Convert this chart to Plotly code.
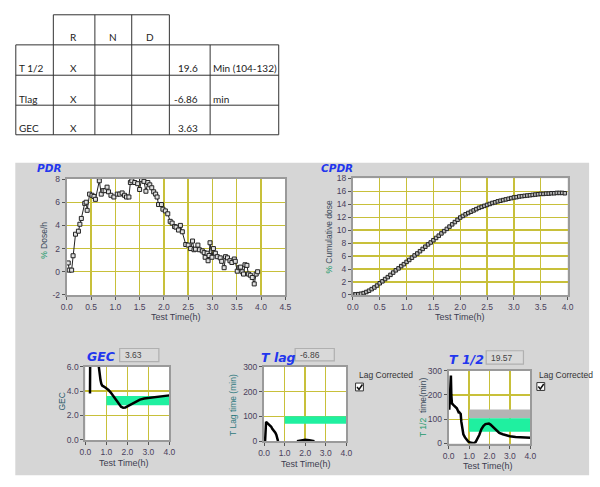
import plotly.graph_objects as go

W, H = 600, 487
def fx(x): return x / W
def fy(y): return 1 - y / H

# ---------------- data ----------------
pdr_t = [0.03,0.05,0.10,0.13,0.18,0.24,0.27,0.30,0.37,0.40,0.42,0.47,0.52,0.56,0.59,0.67,0.71,0.75,0.79,0.83,
         0.86,0.91,0.97,1.04,1.09,1.14,1.19,1.23,1.28,1.31,1.34,1.40,1.46,1.50,1.54,1.59,1.63,1.67,1.71,1.75,
         1.79,1.83,1.86,1.89,1.95,1.98,2.03,2.08,2.13,2.17,2.22,2.25,2.30,2.34,2.38,2.45,2.50,2.55,2.59,2.62,
         2.65,2.70,2.73,2.79,2.83,2.85,2.89,2.91,2.93,2.95,2.99,3.02,3.06,3.10,3.16,3.19,3.24,3.27,3.31,3.36,
         3.40,3.45,3.47,3.51,3.55,3.58,3.61,3.64,3.67,3.71,3.74,3.78,3.82,3.86,3.90,3.93]
pdr_v = [0.76,0.14,0.14,1.38,3.24,3.5,4.1,4.6,5.9,6.0,5.3,6.7,6.6,6.5,6.25,7.85,6.7,7.0,7.0,7.3,
         6.9,6.6,6.45,6.7,6.7,6.8,6.6,6.45,6.45,7.7,7.85,7.7,7.6,7.1,7.95,7.8,6.95,7.7,7.5,7.25,
         6.9,6.7,6.45,5.8,5.8,5.4,5.25,5.0,4.35,4.2,3.9,3.85,3.6,4.0,3.45,2.35,2.3,2.0,2.65,1.9,
         1.95,2.3,1.9,1.8,1.65,1.25,1.6,0.95,1.4,2.5,1.25,2.0,1.6,1.3,1.2,0.9,0.35,1.3,1.2,0.95,
         0.8,1.1,0.9,0.05,0.35,0.4,0.0,-0.2,0.6,0.55,-0.2,-0.3,-0.5,-1.05,-0.2,0.0]

cpdr_t = [0.00,0.05,0.10,0.15,0.20,0.25,0.30,0.35,0.40,0.45,0.50,0.55,0.60,0.65,0.70,0.75,0.80,0.85,0.90,0.95,
          1.00,1.05,1.10,1.15,1.20,1.25,1.30,1.35,1.40,1.45,1.50,1.55,1.60,1.65,1.70,1.75,1.80,1.85,1.90,1.95,
          2.00,2.05,2.10,2.15,2.20,2.25,2.30,2.35,2.40,2.45,2.50,2.55,2.60,2.65,2.70,2.75,2.80,2.85,2.90,2.95,
          3.00,3.05,3.10,3.15,3.20,3.25,3.30,3.35,3.40,3.45,3.50,3.55,3.60,3.65,3.70,3.75,3.80,3.85,3.90,3.95]
cpdr_v = [0.05,0.08,0.12,0.18,0.28,0.45,0.65,0.9,1.15,1.45,1.8,2.1,2.45,2.75,3.1,3.45,3.8,4.1,4.45,4.75,
          5.1,5.4,5.75,6.1,6.4,6.75,7.1,7.45,7.8,8.1,8.45,8.8,9.15,9.5,9.85,10.2,10.55,10.9,11.25,11.6,
          11.95,12.2,12.45,12.65,12.85,13.05,13.25,13.45,13.6,13.75,13.9,14.05,14.2,14.3,14.45,14.55,14.65,14.75,14.85,14.95,
          15.05,15.1,15.2,15.25,15.3,15.35,15.4,15.45,15.5,15.55,15.6,15.6,15.65,15.65,15.7,15.7,15.75,15.75,15.75,15.7]

gec_t = [0.22,0.23,0.40,0.60,0.64,0.68,0.72,0.76,0.80,0.90,1.00,1.10,1.20,1.30,1.40,1.50,1.60,1.70,1.80,1.90,
         2.00,2.20,2.40,2.60,2.80,3.00,3.20,3.40,3.60,3.80,4.00]
gec_v = [3.8,7.0,8.0,7.0,6.0,5.3,4.9,4.6,4.45,4.35,4.25,4.1,3.9,3.65,3.4,3.15,2.9,2.72,2.63,2.65,
         2.75,2.95,3.15,3.3,3.4,3.45,3.48,3.5,3.55,3.6,3.65]
gec_band = [2.85, 3.6]

tlag_t = [0.05,0.07,0.10,0.15,0.20,0.25,0.30,0.35,0.40,0.45,0.50,0.55,0.60,0.65,0.68,None,1.60,1.80,2.00,2.20,2.45]
tlag_v = [0,60,78,74,70,67,60,58,50,45,40,34,25,10,0,None,0,4,6,4,0]
tlag_band = [70, 100]

thalf_t = [0.03,0.06,0.08,0.11,0.13,0.16,0.24,0.32,0.40,0.48,0.50,0.53,0.56,0.59,0.62,0.66,0.72,0.80,0.88,0.96,
           1.04,1.12,1.23,1.32,1.39,1.50,1.60,1.70,1.80,1.90,1.97,2.05,2.16,2.30,2.48,2.65,2.80,3.00,3.28,3.60,4.00]
thalf_v = [139,180,230,280,200,165,158,152,145,130,125,128,122,122,90,60,38,25,15,8,
           4,2,1,6,17,35,58,72,80,83,82,78,69,55,44,38,34,30,27,25,24]
thalf_gray_band = [104, 140]
thalf_green_band = [48, 104]
band_t = [1.0, 4.0]

tab_header = ["R", "N", "D"]
tab_rows = ["T 1/2", "Tlag", "GEC"]
tab_marks = ["X", "X", "X"]
tab_values = ["19.6", "-6.86", "3.63"]
tab_units = ["Min (104-132)", "min", ""]

ind_gec, ind_tlag, ind_thalf = "3.63", "-6.86", "19.57"

pdr_yticks = [-2, 0, 2, 4, 6, 8]
pdr_yticktext = ["-2", "0", "2", "4", "6", "8"]

# ---------------- styles ----------------
GRID = "#c8c03a"
FRAME = "#9a9a9a"
TICKFONT = dict(family="Liberation Sans", size=8.5, color="#4a3f5c")
BAND = "#1ff0a0"
TITLEBLUE = "#2236ee"
GREEN = "#1d9a6c"
DARK = "#3c4a5a"

def axis(domain, rng, dtick=None, fmt=None, tickvals=None, ticktext=None, anchor=None):
    d = dict(domain=domain, range=rng, showgrid=True, gridcolor=GRID, gridwidth=1.4,
             zeroline=False, showline=True, mirror=True, linecolor=FRAME, linewidth=2,
             ticks="outside", ticklen=3, tickcolor="#555", tickwidth=1,
             tickfont=TICKFONT, fixedrange=True, anchor=anchor)
    if dtick is not None:
        d["dtick"] = dtick
        d["tick0"] = rng[0] if rng[0] >= 0 else 0
    if fmt:
        d["tickformat"] = fmt
    if tickvals is not None:
        d["tickmode"] = "array"; d["tickvals"] = tickvals; d["ticktext"] = ticktext
    return d

fig = go.Figure()

def band(xa, ya, lo_hi, color):
    fig.add_trace(go.Scatter(x=[band_t[0], band_t[1], band_t[1], band_t[0], band_t[0]],
                             y=[lo_hi[0], lo_hi[0], lo_hi[1], lo_hi[1], lo_hi[0]],
                             mode="lines", fill="toself", fillcolor=color, line=dict(width=0),
                             xaxis=xa, yaxis=ya, hoverinfo="skip", showlegend=False))

fig.add_trace(go.Scatter(x=pdr_t, y=pdr_v, mode="lines+markers", xaxis="x", yaxis="y",
                         line=dict(color="#222", width=1),
                         marker=dict(symbol="square", size=4, color="#e0e0e0", line=dict(color="#222", width=1)),
                         showlegend=False))
fig.add_trace(go.Scatter(x=cpdr_t, y=cpdr_v, mode="lines+markers", xaxis="x2", yaxis="y2",
                         line=dict(color="#222", width=1),
                         marker=dict(symbol="square", size=3.5, color="#bbbbbb", line=dict(color="#222", width=1)),
                         showlegend=False))
band("x3", "y3", gec_band, BAND)
fig.add_trace(go.Scatter(x=gec_t, y=gec_v, mode="lines", xaxis="x3", yaxis="y3",
                         line=dict(color="#000", width=2.5), showlegend=False))
band("x4", "y4", tlag_band, BAND)
fig.add_trace(go.Scatter(x=tlag_t, y=tlag_v, mode="lines", xaxis="x4", yaxis="y4",
                         line=dict(color="#000", width=2.5), showlegend=False, connectgaps=False))
band("x5", "y5", thalf_gray_band, "#b4b4b4")
band("x5", "y5", thalf_green_band, BAND)
fig.add_trace(go.Scatter(x=thalf_t, y=thalf_v, mode="lines", xaxis="x5", yaxis="y5",
                         line=dict(color="#000", width=2.5), showlegend=False))

# plot area pixel boxes (left, top, right, bottom)
boxes = {
    "1": (62, 177.7, 285, 296),
    "2": (354, 177, 573, 296),
    "3": (81, 369.3, 166.7, 444),
    "4": (263.3, 369.3, 347.3, 445.3),
    "5": (451.7, 373.3, 535, 447.7),
}
def dom(b):
    l, t, r, bt = b
    return [fx(l), fx(r)], [fy(bt), fy(t)]

xd, yd = dom(boxes["1"])
fig.update_layout(xaxis=axis(xd, [0, 4.5], 0.5, ".1f", anchor="y"),
                  yaxis=axis(yd, [-2, 8], tickvals=pdr_yticks, ticktext=pdr_yticktext, anchor="x"))
xd, yd = dom(boxes["2"])
fig.update_layout(xaxis2=axis(xd, [0, 4.0], 0.5, ".1f", anchor="y2"),
                  yaxis2=axis(yd, [0, 18], 2, anchor="x2"))
xd, yd = dom(boxes["3"])
fig.update_layout(xaxis3=axis(xd, [0, 4.0], 1, ".1f", anchor="y3"),
                  yaxis3=axis(yd, [0, 6], 2, ".1f", anchor="x3"))
xd, yd = dom(boxes["4"])
fig.update_layout(xaxis4=axis(xd, [0, 4.0], 1, ".1f", anchor="y4"),
                  yaxis4=axis(yd, [0, 300], 100, anchor="x4"))
xd, yd = dom(boxes["5"])
fig.update_layout(xaxis5=axis(xd, [0, 4.0], 1, ".1f", anchor="y5"),
                  yaxis5=axis(yd, [0, 300], 100, anchor="x5"))

shapes = []
def rect(l, t, r, b, fill, line=None, lw=0, layer="below"):
    shapes.append(dict(type="rect", xref="paper", yref="paper", x0=fx(l), x1=fx(r), y0=fy(b), y1=fy(t),
                       fillcolor=fill, line=dict(color=line or fill, width=lw), layer=layer))
def hline(y, x0, x1, color="#333", w=1):
    shapes.append(dict(type="line", xref="paper", yref="paper", x0=fx(x0), x1=fx(x1), y0=fy(y), y1=fy(y),
                       line=dict(color=color, width=w)))
def vline(x, y0, y1, color="#333", w=1):
    shapes.append(dict(type="line", xref="paper", yref="paper", x0=fx(x), x1=fx(x), y0=fy(y0), y1=fy(y1),
                       line=dict(color=color, width=w)))

# gray panel + white plot areas
rect(9.5, 161, 595, 480, "#d6d6d6")
for b in boxes.values():
    rect(b[0], b[1], b[2], b[3], "#ffffff")

# table lines
hline(10, 48.3, 166.7)
for y in [40.7, 71.7, 102.3, 132.5]:
    hline(y, 10, 278.3)
for x in [48.3, 90.7, 128.3, 166.7]:
    vline(x, 10, 132.5)
for x in [10, 208.3, 278.3]:
    vline(x, 40.7, 132.5)

# indicator boxes
for (l, t, r, b) in [(116, 350.7, 156, 364), (295, 350.7, 335, 363.3), (490, 353, 528, 366.7)]:
    rect(l, t, r, b, "#d9d9d9", "#b0b0b0", 1.2, layer="above")

# checkboxes
for (l, t) in [(356.7, 386), (541.7, 385.5)]:
    rect(l, t, l + 8, t + 8, "#ffffff", "#333333", 1, layer="above")
    shapes.append(dict(type="path", xref="paper", yref="paper",
                       path="M {:.5f},{:.5f} L {:.5f},{:.5f} L {:.5f},{:.5f}".format(
                           fx(l + 1.5), fy(t + 4), fx(l + 3.5), fy(t + 6.5), fx(l + 7), fy(t + 1.5)),
                       line=dict(color="#111", width=1.5), layer="above"))

ann = []
def text(x, y, s, size=9, color="#333", family="Liberation Sans", xanchor="center", angle=0):
    ann.append(dict(x=fx(x), y=fy(y), xref="paper", yref="paper", text=s, showarrow=False,
                    xanchor=xanchor, yanchor="middle", textangle=angle,
                    font=dict(size=size, color=color, family=family)))

# table text
TF = "Lato"
TS = 10
for c, hx in zip(tab_header, [69, 109, 147]):
    text(hx, 33, c, TS, "#222", TF)
for i, yy in enumerate([64, 96, 126]):
    text(11.5, yy, tab_rows[i], TS, "#222", TF, "left")
    text(69, yy, tab_marks[i], TS, "#222", TF)
    text(198, yy, tab_values[i], TS, "#222", TF, "right")
    text(209.5, yy, tab_units[i], TS, "#222", TF, "left")

# chart titles
TT = "DejaVu Sans"
text(44, 166, "<b><i>PDR</i></b>", 10.5, TITLEBLUE, TT)
text(337.5, 166, "<b><i>CPDR</i></b>", 10.5, TITLEBLUE, TT)
text(97.5, 359, "<b><i>GEC</i></b>", 12.5, TITLEBLUE, TT)
text(278, 360, "<b><i>T lag</i></b>", 12.5, TITLEBLUE, TT)
text(470, 362, "<b><i>T 1/2</i></b>", 12.5, TITLEBLUE, TT)

# indicator values
text(119, 357.5, ind_gec, 8.5, "#444", xanchor="left")
text(298, 357.3, ind_tlag, 8.5, "#444", xanchor="left")
text(493, 360, ind_thalf, 8.5, "#444", xanchor="left")

# axis titles
XT = "#3d3d50"
XS = 9
text(173.5, 318.5, "Test Time(h)", XS, XT)
text(463.5, 318.5, "Test Time(h)", XS, XT)
text(120, 467.5, "Test Time(h)", XS, XT)
text(306, 468.5, "Test Time(h)", XS, XT)
text(492, 470.5, "Test Time(h)", XS, XT)
text(38.5, 240, "<span style='color:%s'>%%</span> Dose/h" % GREEN, 8.5, DARK, angle=-90)
text(330, 236, "<span style='color:%s'>%%</span> Cumulative dose" % GREEN, 8.5, DARK, angle=-90)
text(57, 405, "GEC", 8.5, "#2a5a6a", angle=-90)
text(231, 408, "T Lag time (min)", 8.5, "#2f7a80", angle=-90)
text(425, 411, "<span style='color:%s'>T 1/2</span>  time(min)" % GREEN, 8.5, DARK, angle=-90)

# lag corrected labels
text(358, 377.5, "Lag Corrected", 8.5, "#333", xanchor="left")
text(541.5, 377.5, "Lag Corrected", 8.5, "#333", xanchor="left")

fig.update_layout(width=W, height=H, autosize=False, margin=dict(l=0, r=0, t=0, b=0),
                  paper_bgcolor="#ffffff", plot_bgcolor="rgba(0,0,0,0)",
                  shapes=shapes, annotations=ann, showlegend=False)

fig.write_html("out.html", config={"displayModeBar": False, "staticPlot": True},
               post_script="document.body.style.margin='0';document.body.style.overflow='hidden';")
